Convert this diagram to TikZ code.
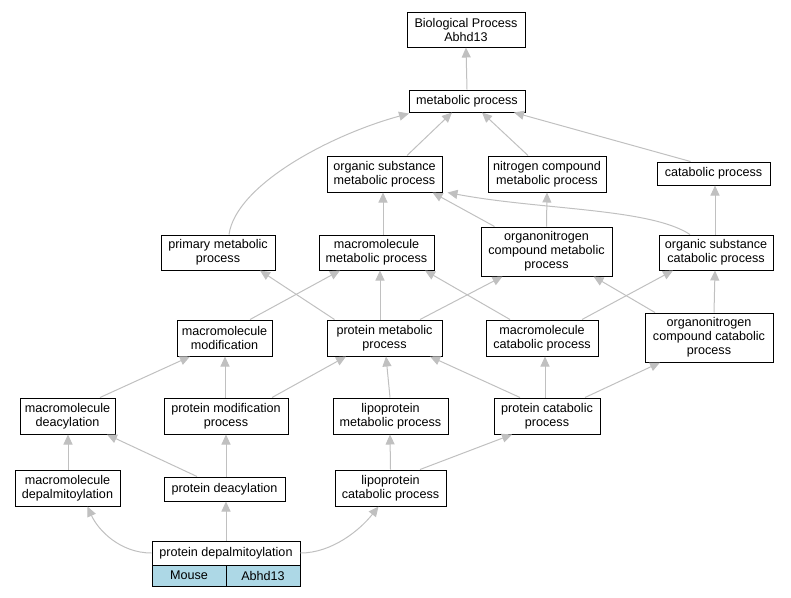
\documentclass[tikz,border=0pt]{standalone}
\usepackage{fontspec}
\setmainfont{Liberation Sans}
\usetikzlibrary{arrows.meta}
\definecolor{edgegray}{RGB}{192,192,192}
\definecolor{cellblue}{RGB}{173,216,230}
\tikzset{
  box/.style={draw=black, line width=1pt, fill=white, inner sep=0pt, align=center,
    font=\fontsize{12.6}{14}\selectfont},
  cell/.style={box, fill=cellblue},
  edge/.style={draw=edgegray, line width=1pt, -{Triangle[length=10pt,width=9pt,fill=edgegray]}},
}
\begin{document}
\begin{tikzpicture}[x=1pt,y=-1pt]
\useasboundingbox (0,0) rectangle (791,597);
% nodes
\node[box, minimum width=118, minimum height=35] (bp) at (466,29.5) {Biological Process\\Abhd13};
\node[box, minimum width=116, minimum height=22] (met) at (467,101) {metabolic process};
\node[box, minimum width=115, minimum height=36] (osm) at (384.5,174) {organic substance\\metabolic process};
\node[box, minimum width=118, minimum height=36] (ncm) at (547,174) {nitrogen compound\\metabolic process};
\node[box, minimum width=113, minimum height=23] (cat) at (713.5,173.5) {catabolic process};
\node[box, minimum width=114, minimum height=35] (pm) at (218,252.5) {primary metabolic\\process};
\node[box, minimum width=115, minimum height=35] (mm) at (376.5,252.5) {macromolecule\\metabolic process};
\node[box, minimum width=131, minimum height=49] (oncm) at (546.5,251.5) {organonitrogen\\compound metabolic\\process};
\node[box, minimum width=114, minimum height=35] (osc) at (716,252.5) {organic substance\\catabolic process};
\node[box, minimum width=95, minimum height=36] (mmod) at (224.5,338) {macromolecule\\modification};
\node[box, minimum width=115, minimum height=36] (pmp) at (384.5,338) {protein metabolic\\process};
\node[box, minimum width=112, minimum height=36] (mcp) at (542,338) {macromolecule\\catabolic process};
\node[box, minimum width=128, minimum height=49] (oncc) at (709,337.5) {organonitrogen\\compound catabolic\\process};
\node[box, minimum width=95, minimum height=36] (mdeac) at (67.5,416) {macromolecule\\deacylation};
\node[box, minimum width=124, minimum height=36] (pmodp) at (226,416) {protein modification\\process};
\node[box, minimum width=115, minimum height=36] (lmp) at (390.5,416) {lipoprotein\\metabolic process};
\node[box, minimum width=106, minimum height=36] (pcp) at (547,416) {protein catabolic\\process};
\node[box, minimum width=105, minimum height=36] (mdepal) at (67.5,488) {macromolecule\\depalmitoylation};
\node[box, minimum width=121, minimum height=24] (pdeac) at (224.5,489) {protein deacylation};
\node[box, minimum width=111, minimum height=36] (lcp) at (390.5,488) {lipoprotein\\catabolic process};
\node[box, minimum width=148, minimum height=24] (pd) at (226,553) {protein depalmitoylation};
\node[cell, minimum width=74, minimum height=21] (mouse) at (189,575.5) {Mouse};
\node[cell, minimum width=74, minimum height=21] (abhd) at (263,575.5) {Abhd13};
% edges
\draw[edge] (met.north) -- (bp.south);
\draw[edge] ([xshift=22.5]osm.north) -- ([xshift=-15]met.south);
\draw[edge] ([xshift=-19]ncm.north) -- ([xshift=15]met.south);
\draw[edge] ([xshift=-23]cat.north) -- ([xshift=47]met.south);
\draw[edge] ([xshift=11]pm.north) .. controls (236,185) and (330,135) .. ([xshift=-58,yshift=-1]met.south);
\draw[edge] ([xshift=6.5]mm.north) -- ([xshift=-1.5]osm.south);
\draw[edge] ([xshift=-52]oncm.north) -- ([xshift=48]osm.south);
\draw[edge] (oncm.north) -- (ncm.south);
\draw[edge] ([xshift=-26]osc.north) .. controls (650,208) and (540,210) .. ([xshift=63]osm.south);
\draw[edge] ([xshift=-1]osc.north) -- ([xshift=1.5]cat.south);
\draw[edge] ([xshift=25.5]mmod.north) -- ([xshift=-36.5]mm.south);
\draw[edge] ([xshift=-50]pmp.north) -- ([xshift=42]pm.south);
\draw[edge] ([xshift=-4.5]pmp.north) -- ([xshift=3.5]mm.south);
\draw[edge] ([xshift=35.5]pmp.north) -- ([xshift=-44]oncm.south);
\draw[edge] ([xshift=-32]mcp.north) -- ([xshift=48.5]mm.south);
\draw[edge] ([xshift=40]mcp.north) -- ([xshift=-43]osc.south);
\draw[edge] ([xshift=-54]oncc.north) -- ([xshift=47]oncm.south);
\draw[edge] ([xshift=5]oncc.north) -- ([xshift=-1]osc.south);
\draw[edge] ([xshift=32.5]mdeac.north) -- ([xshift=-34.5]mmod.south);
\draw[edge] ([xshift=-1]pmodp.north) -- ([xshift=0.5]mmod.south);
\draw[edge] ([xshift=46]pmodp.north) -- ([xshift=-38.5]pmp.south);
\draw[edge] ([xshift=-0.5]lmp.north) -- ([xshift=1.5]pmp.south);
\draw[edge] ([xshift=-27]pcp.north) -- ([xshift=45.5]pmp.south);
\draw[edge] ([xshift=-2]pcp.north) -- ([xshift=3]mcp.south);
\draw[edge] ([xshift=38]pcp.north) -- ([xshift=-49]oncc.south);
\draw[edge] ([xshift=0.5]mdepal.north) -- ([xshift=0.5]mdeac.south);
\draw[edge] ([xshift=-27.5]pdeac.north) -- ([xshift=39.5]mdeac.south);
\draw[edge] ([xshift=1.5]pdeac.north) -- (pmodp.south);
\draw[edge] (lcp.north) -- ([xshift=-0.5]lmp.south);
\draw[edge] ([xshift=29.5]lcp.north) -- ([xshift=-35]pcp.south);
\draw[edge] (pd.west) .. controls (120,553) and (98,530) .. ([xshift=20]mdepal.south);
\draw[edge] (pd.north) -- ([xshift=1.5]pdeac.south);
\draw[edge] (pd.east) .. controls (332,553) and (360,530) .. ([xshift=-12]lcp.south);
\end{tikzpicture}
\end{document}
